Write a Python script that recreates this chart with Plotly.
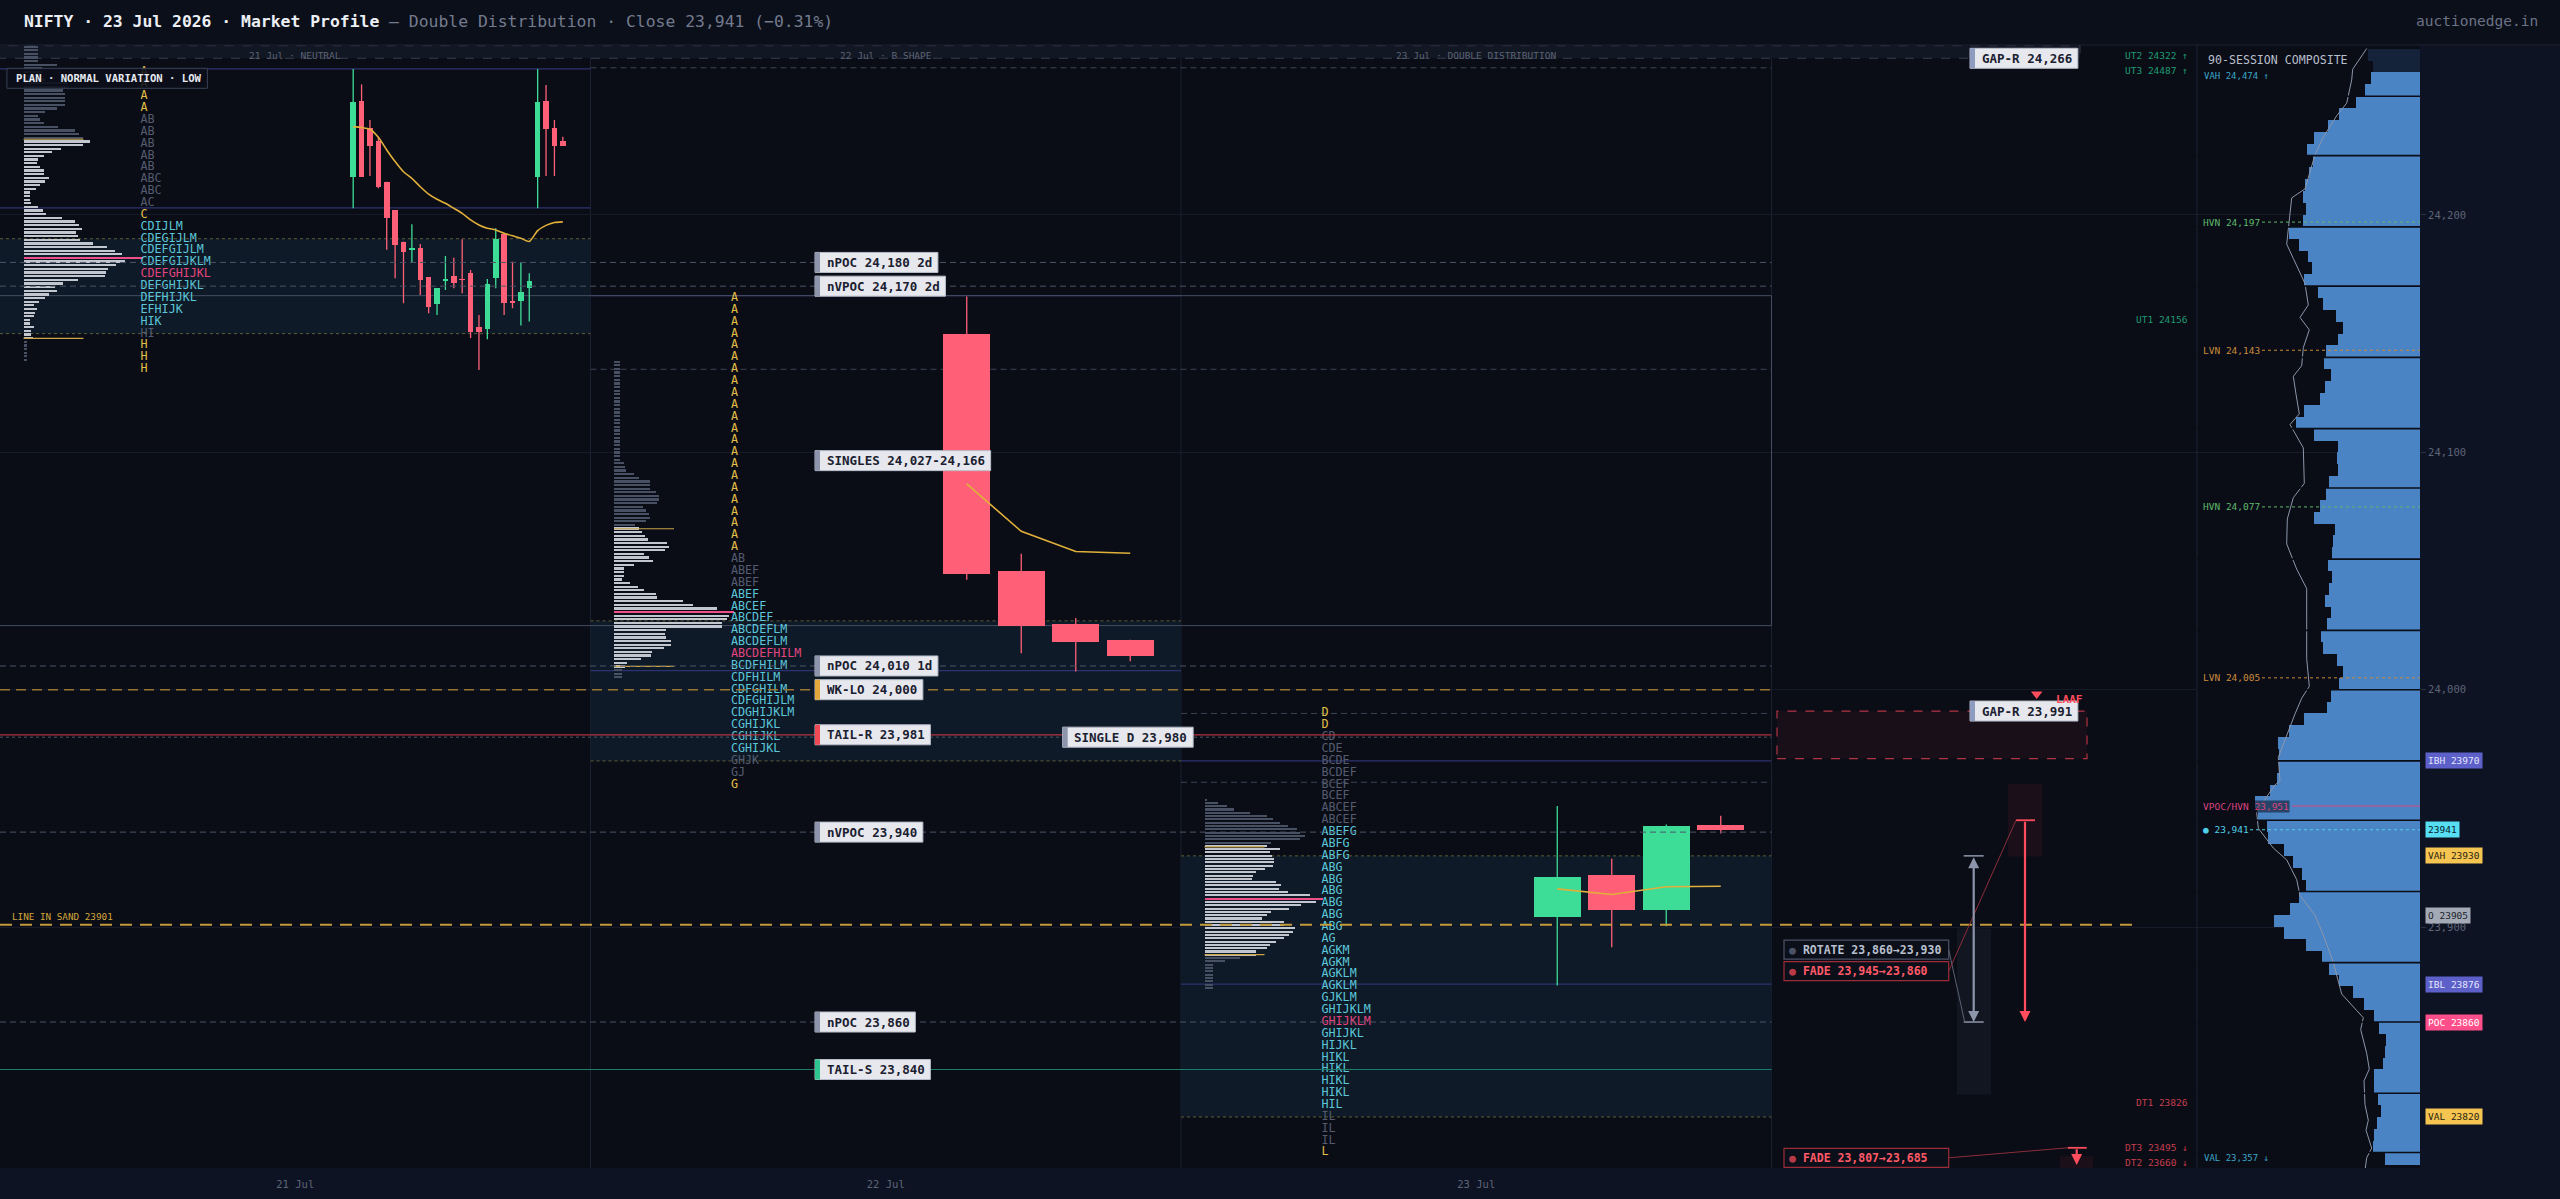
import plotly.graph_objects as go

FONT = 'DejaVu Sans Mono'

# ====================== DATA ======================
DAYS = ['21 Jul', '22 Jul', '23 Jul']
DAY_TYPES = ['NEUTRAL', 'B SHAPE', 'DOUBLE DISTRIBUTION']
PLAN_TEXT = 'PLAN · NORMAL VARIATION · LOW'

TPO_TICK = 5
TPO21_TOP = 24260
TPO21 = ['A', 'A', 'A', 'A', 'AB', 'AB', 'AB', 'AB', 'AB', 'ABC', 'ABC', 'AC', 'C', 'CDIJLM',
         'CDEGIJLM', 'CDEFGIJLM', 'CDEFGIJKLM', 'CDEFGHIJKL', 'DEFGHIJKL', 'DEFHIJKL', 'EFHIJK',
         'HIK', 'HI', 'H', 'H', 'H']
TPO22_TOP = 24165
TPO22 = ['A', 'A', 'A', 'A', 'A', 'A', 'A', 'A', 'A', 'A', 'A', 'A', 'A', 'A', 'A', 'A', 'A', 'A',
         'A', 'A', 'A', 'A', 'AB', 'ABEF', 'ABEF', 'ABEF', 'ABCEF', 'ABCDEF', 'ABCDEFLM', 'ABCDEFLM',
         'ABCDEFHILM', 'BCDFHILM', 'CDFHILM', 'CDFGHILM', 'CDFGHIJLM', 'CDGHIJKLM', 'CGHIJKL',
         'CGHIJKL', 'CGHIJKL', 'GHJK', 'GJ', 'G']
TPO23_TOP = 23990
TPO23 = ['D', 'D', 'CD', 'CDE', 'BCDE', 'BCDEF', 'BCEF', 'BCEF', 'ABCEF', 'ABCEF', 'ABEFG', 'ABFG',
         'ABFG', 'ABG', 'ABG', 'ABG', 'ABG', 'ABG', 'ABG', 'AG', 'AGKM', 'AGKM', 'AGKLM', 'AGKLM',
         'GJKLM', 'GHIJKLM', 'GHIJKLM', 'GHIJKL', 'HIJKL', 'HIKL', 'HIKL', 'HIKL', 'HIKL', 'HIL',
         'IL', 'IL', 'IL', 'L']
TPO_POC = [24175, 24015, 23860]
TPO_VA = [(24195, 24155), (24040, 23975), (23940, 23825)]

VA = [(24190, 24150), (24029, 23970), (23930, 23820)]
IB = [(24261.5, 24203), (24166, 24008), (23970, 23876)]

# volume profile per session (top price, bottom price, row volumes top->bottom)
VOL21_TOP, VOL21_BOT = 24270.9, 24138.9
VOL21 = [14.5, 14.5, 14.5, 14.5, 14.5, 33, 18, 18, 18, 21, 43, 44, 39, 41, 41, 41, 41, 33, 21, 14,
         16, 20, 34, 51, 55, 59, 66, 59, 37, 28, 20, 14, 13, 16, 20, 20, 25, 21, 16, 12, 6, 6, 6, 7,
         14, 19, 22, 38, 51, 55, 58, 52, 54, 56, 69, 83, 91, 98, 119, 101, 92, 84, 82, 81, 54, 39,
         31, 33, 25, 21, 15, 10, 13, 11, 10, 6, 6, 10, 7, 7, 9, 3, 3, 3, 3, 3, 3]
VOL22_TOP, VOL22_BOT = 24138.2, 24005.2
VOL22 = [6, 6, 6, 6, 6, 6, 6, 6, 6, 6, 6, 6, 6, 6, 6, 6, 6, 6, 6, 6, 6, 6, 6, 6, 6, 6, 6, 6,
         9.5, 11, 12, 20, 25, 36, 36, 36, 42, 45, 45, 43, 29, 32, 35, 36, 32, 21, 25, 28,
         31, 34, 53, 55, 51, 30, 35, 39, 20, 9.5, 10, 9.5, 8, 16, 24, 30, 42, 43, 69, 79,
         103, 120, 115, 113, 108, 108, 52, 51, 52, 57, 57, 50, 38, 37, 27, 13, 11, 7.5, 7.5, 7.5]
VOL23_TOP, VOL23_BOT = 23953.7, 23874.4
VOL23 = [2, 13, 22, 29, 45, 62, 68, 75, 83, 92, 95, 100, 95, 66, 62, 75, 65, 67, 69, 69,
         68, 60, 51, 48, 47, 71, 76, 74, 83, 105, 118, 111, 96, 84, 66, 62, 57, 79, 79, 90,
         88, 84, 79, 71, 65, 62, 51, 51, 35, 20, 8, 8, 8, 8, 8, 8, 8, 8]
VOL_VA = [(24231.9, 24148.0), (24067.8, 24009.8), (23933.8, 23888.4)]

# 30-min / 5-min candles
O21 = [24216, 24248, 24236.5, 24231.3, 24214, 24202.1, 24188.8, 24185.5, 24186, 24173.7, 24162.4,
       24172.4, 24174.3, 24172.9, 24175.7, 24152.7, 24151.9, 24173.6, 24191.9, 24163.8, 24163.9,
       24169.1, 24216, 24248, 24236.5, 24231.2]
H21 = [24261.5, 24255, 24240, 24233, 24214, 24202.1, 24188.8, 24196.1, 24187.8, 24173.7, 24169.1,
       24182.7, 24182, 24189.8, 24176.8, 24157.9, 24173, 24194.4, 24191.9, 24180.3, 24179.9,
       24175.4, 24261.5, 24254.7, 24240, 24233]
L21 = [24202.8, 24216, 24216.4, 24211.2, 24185.3, 24173.3, 24162.8, 24179.9, 24166.3, 24158.6,
       24157.9, 24168.4, 24169.1, 24167, 24148.1, 24134.7, 24147.6, 24169.1, 24157.9, 24160.7,
       24153.4, 24155.1, 24202.8, 24216.4, 24216.4, 24229]
C21 = [24247.4, 24216.2, 24229, 24211.9, 24198.9, 24187.4, 24184.6, 24186, 24172.6, 24161.4,
       24169.1, 24172.9, 24171.5, 24172.6, 24150.5, 24150.9, 24171, 24189.9, 24162.8, 24162.8,
       24167.4, 24172.3, 24247.4, 24236.2, 24229.2, 24229.2]
VWAP21 = [24237.2, 24236.8, 24236.1, 24232.7, 24227.4, 24222.5, 24218.2, 24215.4, 24211.9, 24208.8,
          24206.6, 24204.9, 24202.8, 24200.7, 24197.9, 24195.8, 24194.4, 24193.7, 24192.3, 24191.2,
          24190.2, 24188.8, 24193.4, 24195.6, 24196.8, 24197.1]
O22 = [24149.9, 24050.2, 24027.8, 24021.0]
H22 = [24165.6, 24057.3, 24030.2, 24021.0]
L22 = [24046.3, 24015.4, 24007.7, 24012.0]
C22 = [24048.7, 24026.7, 24019.9, 24014.4]
VWAP22 = [24086.7, 24066.7, 24058.2, 24057.5]
O23 = [23904.4, 23921.8, 23907.1, 23942.9]
H23 = [23951.0, 23928.8, 23943.2, 23946.9]
L23 = [23875.4, 23891.5, 23900.3, 23939.4]
C23 = [23921.0, 23907.1, 23942.4, 23941.0]
VWAP23 = [23916.1, 23913.7, 23917.0, 23917.2]

# reference levels
REF_NAMES = ['nPOC 24,180 2d', 'nVPOC 24,170 2d', 'nPOC 24,010 1d', 'WK-LO 24,000', 'TAIL-R 23,981',
             'SINGLE D 23,980', 'nVPOC 23,940', 'nPOC 23,860', 'TAIL-S 23,840']
REF_PRICES = [24180, 24170, 24010, 24000, 23981, 23980, 23940, 23860, 23840]
SINGLES = (24027, 24166)
PRIOR_HL = [24262, 24135, 23990, 23961]
LINE_IN_SAND = 23901
GAP_UP = 24266
GAP_DN = (23971, 23991)
UT_NAMES = ['UT2 24322 ↑', 'UT3 24487 ↑', 'UT1 24156']
UT1 = 24156
DT_NAMES = ['DT1 23826', 'DT3 23495 ↓', 'DT2 23660 ↓']
DT1 = 23826

SCEN_NAMES = ['ROTATE', 'FADE', 'FADE']
SCEN_FROM = [23860, 23945, 23807]
SCEN_TO = [23930, 23860, 23685]
SCEN_ZONES = [(23829.5, 23899.4), (23929.7, 23960.4), (23798.5, 23803.5)]

# 90-session composite (5-pt bins from 24,270 downward)
COMP_TOP, COMP_STEP = 24270, 5
COMP_VOL = [52.3, 47.3, 49, 55, 64, 80.7, 91.7, 105.7, 112.7, 106.7, 110.7, 115, 117.3, 114, 117.3,
            131, 120.7, 112.3, 107.7, 116, 102.3, 96.7, 84, 76.7, 82.3, 94, 96, 89.3, 95, 100, 116,
            124, 105.7, 82.3, 83.3, 82.3, 90.7, 94, 100, 105.7, 85.3, 87.3, 88.3, 91.7, 88.3, 90.7,
            95, 89.3, 92.7, 99, 96.7, 83, 76.7, 81, 89, 93.3, 116, 130.7, 141.7, 140.7, 140.7, 142.7,
            150, 165, 161.7, 153.3, 152.3, 136, 126.7, 118.3, 114, 121, 130, 145.7, 136, 114, 97.7,
            90.7, 80.7, 66.7, 56, 45.7, 41.3, 34, 35, 37.3, 45.7, 45.7, 42.3, 39.3, 43.3, 46, 47.3, 35]
COMP_BREAKS = [24250, 24225, 24195, 24170, 24140, 24110, 24085, 24055, 24025, 24000, 23970, 23945,
               23915, 23885, 23860, 23830, 23805]
COMP_LINE_P = [24270.1, 24261.4, 24256.9, 24247.1, 24241.8, 24232.8, 24225.3, 24216.2, 24211, 24207.2,
               24196.7, 24187.7, 24181.7, 24175.6, 24171.1, 24162.1, 24156.8, 24151.6, 24144.1, 24136.5,
               24132, 24124.5, 24116.2, 24111.7, 24101.9, 24086.9, 24080.9, 24071.9, 24061.4, 24050.8,
               24042.6, 24029.7, 24013.1, 24001.4, 23996.4, 23989.8, 23983.5, 23971.5, 23961.5, 23959.9,
               23954.9, 23948.2, 23941.6, 23933.3, 23928.3, 23920, 23913.3, 23905, 23896.7, 23885.1,
               23871.8, 23865.1, 23861.8, 23856.8, 23846.8, 23840.2, 23835.2, 23825.2, 23818.6, 23814.4,
               23806.9, 23802.8, 23797.5]
COMP_LINE_V = [53.3, 67.3, 68.3, 73.3, 83.3, 96.7, 105, 111.7, 115, 128.3, 130.7, 133.3, 126.7, 120,
               115, 111.7, 120, 110.7, 116.7, 118.3, 126.7, 124, 120.7, 130, 116.7, 115.7, 126.7, 132.7,
               133.3, 123.3, 113.3, 113.3, 113.3, 110.7, 118.3, 125, 130.7, 141.7, 140, 145, 153.3,
               163.3, 161.7, 146.7, 133.3, 123.3, 120, 105, 96.7, 86.7, 78.3, 63.3, 56.7, 59.3, 53.3,
               50.7, 56, 55, 51.7, 54, 48.3, 53.3, 55]
COMP_NODES = ['HVN 24,197', 'LVN 24,143', 'HVN 24,077', 'LVN 24,005', 'VPOC/HVN 23,951', '● 23,941']
COMP_NODE_P = [24197, 24143, 24077, 24005, 23951, 23941]
COMP_VAH_TXT, COMP_VAL_TXT = 'VAH 24,474 ↑', 'VAL 23,357 ↓'

BADGES = ['IBH 23970', '23941', 'VAH 23930', 'O 23905', 'IBL 23876', 'POC 23860', 'VAL 23820']
BADGE_P = [23970, 23941, 23930, 23905, 23876, 23860, 23820]

TITLE_MAIN = 'NIFTY · 23 Jul 2026 · Market Profile'
TITLE_SUB = ' — Double Distribution · Close 23,941 (−0.31%)'
BRAND = 'auctionedge.in'

# ====================== LAYOUT GEOMETRY ======================
FIG_W, FIG_H = 2560, 1199
PLOT_T, PLOT_B, PLOT_R = 45, 1168, 2420
MAIN_R = 2197
DAY_PX = 590.5
Y_MIN, Y_MAX = 23798.5, 24271.6
PPX = (Y_MAX - Y_MIN) / (PLOT_B - PLOT_T)


def dx(px):
    return px / DAY_PX


def pr(ypx):
    return Y_MAX - (ypx - PLOT_T) * PPX


def PX(px):
    return px / PLOT_R


def PY(ypx):
    return (PLOT_B - ypx) / (PLOT_B - PLOT_T)


BG = '#0a0d16'
GREEN, RED = '#3ddc97', '#ff6077'
CYAN, YEL, DIM, PINK = '#5cc6da', '#e3bf48', '#555c70', '#e2457f'

fig = go.Figure()
shapes = []
annos = []


def hline(p, x0px, x1px, color, width=1, dash=None, layer='above'):
    shapes.append(dict(type='line', xref='x', yref='y', x0=dx(x0px), x1=dx(x1px), y0=p, y1=p,
                       line=dict(color=color, width=width, dash=dash), layer=layer))


def rect(x0px, x1px, p0, p1, fill, line=None, lw=0, dash=None, layer='above'):
    shapes.append(dict(type='rect', xref='x', yref='y', x0=dx(x0px), x1=dx(x1px), y0=p0, y1=p1,
                       fillcolor=fill, line=dict(color=line or fill, width=lw, dash=dash), layer=layer))


def text(x, y, s, size, color, xref='x', yref='y', xanchor='left', yanchor='middle', bold=False, **kw):
    annos.append(dict(x=x, y=y, xref=xref, yref=yref, text=('<b>%s</b>' % s) if bold else s,
                      showarrow=False, xanchor=xanchor, yanchor=yanchor,
                      font=dict(family=FONT, size=size, color=color), **kw))


# ---------- background regions ----------
shapes.append(dict(type='rect', xref='paper', yref='paper', x0=PX(PLOT_R), x1=PX(FIG_W), y0=PY(FIG_H),
                   y1=PY(PLOT_T), fillcolor='#0e1324', line=dict(width=0), layer='below'))
shapes.append(dict(type='rect', xref='paper', yref='paper', x0=0, x1=PX(FIG_W), y0=PY(FIG_H),
                   y1=0, fillcolor='#0e1324', line=dict(width=0), layer='below'))
shapes.append(dict(type='line', xref='paper', yref='paper', x0=0, x1=PX(FIG_W), y0=1, y1=1,
                   line=dict(color='#1c2233', width=1), layer='above'))

# gap-up zone at top
rect(-3, 2080, GAP_UP, Y_MAX - 0.3, '#121724', '#343c50', 1, 'dash', layer='below')

sessions = [
    dict(tpo_top=TPO21_TOP, tpo=TPO21, vtop=VOL21_TOP, vbot=VOL21_BOT, vol=VOL21,
         O=O21, H=H21, L=L21, C=C21, vw=VWAP21),
    dict(tpo_top=TPO22_TOP, tpo=TPO22, vtop=VOL22_TOP, vbot=VOL22_BOT, vol=VOL22,
         O=O22, H=H22, L=L22, C=C22, vw=VWAP22),
    dict(tpo_top=TPO23_TOP, tpo=TPO23, vtop=VOL23_TOP, vbot=VOL23_BOT, vol=VOL23,
         O=O23, H=H23, L=L23, C=C23, vw=VWAP23),
]

for d, s in enumerate(sessions):
    d0 = d * DAY_PX
    # value area band
    vah, val = VA[d]
    rect(d0, d0 + DAY_PX, val, vah, '#0e1a27', layer='below')
    hline(vah, d0, d0 + DAY_PX, '#5e5c35', 1, 'dot', layer='between')
    hline(val, d0, d0 + DAY_PX, '#5e5c35', 1, 'dot', layer='between')
    # IB
    for p in IB[d]:
        hline(p, d0, d0 + DAY_PX, '#2d3270', 1.2, None, layer='between')

    # volume profile
    vol = s['vol']
    n = len(vol)
    step = (s['vtop'] - s['vbot']) / (n - 1)
    vp = [s['vtop'] - i * step for i in range(n)]
    vmax = max(vol)
    vhi, vlo = VOL_VA[d]
    cols = []
    for p, v in zip(vp, vol):
        if v == vmax:
            cols.append('#ee4f86')
        elif vlo - 0.5 <= p <= vhi + 0.5:
            cols.append('#c2c6cf')
        else:
            cols.append('#485064')
    fig.add_trace(go.Bar(orientation='h', y=vp, x=[dx(v) for v in vol], base=dx(d0 + 23.5),
                         width=step * 0.62, marker=dict(color=cols, line=dict(width=0)),
                         hoverinfo='skip', showlegend=False))
    for p in VOL_VA[d]:
        hline(p, d0 + 23.5, d0 + 83.5, '#c9a548', 1.2, None, layer='above')

    # TPO letters
    tp = [s['tpo_top'] - i * TPO_TICK for i in range(len(s['tpo']))]
    tcol = []
    for p, lt in zip(tp, s['tpo']):
        if p == TPO_POC[d]:
            tcol.append(PINK)
        elif len(lt) == 1:
            tcol.append(YEL)
        elif TPO_VA[d][1] <= p <= TPO_VA[d][0]:
            tcol.append(CYAN)
        else:
            tcol.append(DIM)
    fig.add_trace(go.Scatter(x=[dx(d0 + 140.5)] * len(tp), y=tp, mode='text', text=s['tpo'],
                             textposition='middle right',
                             textfont=dict(family=FONT, size=11.7, color=tcol),
                             hoverinfo='skip', showlegend=False))

    # candles
    O, Hh, L, C = s['O'], s['H'], s['L'], s['C']
    nc = len(O)
    slot = 218.0 / nc
    cx = [dx(d0 + 349 + (i + 0.5) * slot) for i in range(nc)]
    bw = dx(slot * (0.86 if nc < 10 else 0.66))
    ccol = [GREEN if c >= o else RED for o, c in zip(O, C)]
    for colr in (GREEN, RED):
        xs, ys = [], []
        for i in range(nc):
            if ccol[i] == colr:
                xs += [cx[i], cx[i], None]
                ys += [L[i], Hh[i], None]
        fig.add_trace(go.Scatter(x=xs, y=ys, mode='lines', line=dict(color=colr, width=1.3),
                                 hoverinfo='skip', showlegend=False))
    fig.add_trace(go.Bar(x=cx, y=[max(abs(c - o), 0.35) for o, c in zip(O, C)],
                         base=[min(o, c) for o, c in zip(O, C)], width=bw,
                         marker=dict(color=ccol, line=dict(width=0)), hoverinfo='skip', showlegend=False))
    fig.add_trace(go.Scatter(x=cx, y=s['vw'], mode='lines',
                             line=dict(color='#e0b03a', width=1.6,
                                       shape='spline' if nc > 10 else 'linear', smoothing=0.6),
                             hoverinfo='skip', showlegend=False))

    # session header
    text(d + 0.5, PY(55), '%s · %s' % (DAYS[d], DAY_TYPES[d]), 9.5, '#5c6374',
         yref='paper', xanchor='center')

# prior-day highs/lows
hline(PRIOR_HL[0], DAY_PX, 3 * DAY_PX, '#3c4356', 1, '6px,4px', 'between')
hline(PRIOR_HL[1], DAY_PX, 3 * DAY_PX, '#3c4356', 1, '6px,4px', 'between')
hline(PRIOR_HL[2], 2 * DAY_PX, 3 * DAY_PX, '#3c4356', 1, '6px,4px', 'between')
hline(PRIOR_HL[3], 2 * DAY_PX, 3 * DAY_PX, '#3c4356', 1, '6px,4px', 'between')

# singles box
rect(-3, 3 * DAY_PX, SINGLES[0], SINGLES[1], 'rgba(0,0,0,0)', '#454d62', 1, None, layer='between')

# reference level lines
STYLE = {
    'nPOC': ('#4d5467', 1, '6px,4px', '#8c95ab'),
    'nVPOC': ('#4d5467', 1, '6px,4px', '#8c95ab'),
    'WK-LO': ('#9a7532', 1.4, '10px,6px', '#e2a83b'),
    'TAIL-R': ('#b3323f', 1.2, None, '#f04a57'),
    'SINGLE': ('#4d5467', 1, 'dot', '#8c95ab'),
    'TAIL-S': ('#1d7f68', 1.2, None, '#2fc58e'),
}
label_boxes = []
for name, p in zip(REF_NAMES, REF_PRICES):
    key = name.split(' ')[0]
    lc, lw, ld, acc = STYLE[key]
    hline(p, 0, 3 * DAY_PX, lc, lw, ld, 'above')
    label_boxes.append((name, p, 1062.7 if key == 'SINGLE' else 815, acc))
label_boxes.append(('SINGLES %s-%s' % (format(SINGLES[0], ','), format(SINGLES[1], ',')),
                    (SINGLES[0] + SINGLES[1]) / 2, 815, '#8c95ab'))

# line in sand
hline(LINE_IN_SAND, 0, 2137, '#c39b3c', 2, '12px,8px', 'above')
text(dx(10), LINE_IN_SAND, 'LINE IN SAND %d' % LINE_IN_SAND, 9.3, '#d3a63c', yanchor='bottom', yshift=1)

# gap-down (LAAF) zone
rect(1777, 2087, GAP_DN[0], GAP_DN[1], 'rgba(120,30,45,0.13)', '#b23443', 1.2, 'dash', layer='above')
label_boxes.append(('GAP-R %s' % format(GAP_UP, ','), GAP_UP, 1970, '#8e9cc0'))
label_boxes.append(('GAP-R %s' % format(GAP_DN[1], ','), GAP_DN[1], 1970, '#8e9cc0'))

for name, p, left, acc in label_boxes:
    w = 9.5 + len(name) * 7.53 + 8
    half = 10 * PPX
    rect(left, left + w, p - half, p + half, '#e6e8ee', '#b8bdca', 1, None, 'above')
    rect(left, left + 5, p - half, p + half, acc, None, 0, None, 'above')
    text(dx(left + 9.5), p, name, 12.5, '#1b2030', bold=True)

# LAAF marker
fig.add_trace(go.Scatter(x=[dx(2036.7)], y=[pr(694)], mode='markers',
                         marker=dict(symbol='triangle-down', size=10, color='#ff4d5e'),
                         hoverinfo='skip', showlegend=False))
text(dx(2054), pr(699), 'LAAF', 11, '#ff4d5e', bold=True)

# UT / DT targets
text(dx(2190), pr(55), UT_NAMES[0], 9.5, '#1f9a73', xanchor='right')
text(dx(2190), pr(70), UT_NAMES[1], 9.5, '#1f9a73', xanchor='right')
text(dx(2190), UT1, UT_NAMES[2], 9.5, '#1f9a73', xanchor='right')
text(dx(2190), DT1, DT_NAMES[0], 9.5, '#c43e4e', xanchor='right')
text(dx(2190), pr(1147), DT_NAMES[1], 9.5, '#c43e4e', xanchor='right')
text(dx(2190), pr(1162), DT_NAMES[2], 9.5, '#c43e4e', xanchor='right')

# scenarios
box_y = [949.7, 971.2, 1157.8]
arrow_x = [1973.7, 2025, 2076.7]
zone_x = [(1957, 1991), (2008, 2042), (2060, 2093)]
for i in range(3):
    rot = SCEN_NAMES[i] == 'ROTATE'
    col = '#8c95aa' if rot else '#ff4d5e'
    bcol = '#4b5265' if rot else '#9b2c38'
    tcol = '#b9c0cd' if rot else '#ff5a67'
    zx0, zx1 = zone_x[i]
    rect(zx0, zx1, SCEN_ZONES[i][0], SCEN_ZONES[i][1], '#121620' if rot else '#1b1019', layer='between')
    yb = box_y[i]
    rect(1784, 1948.7, pr(yb + 9.5), pr(yb - 9.5), '#0b0f1a', bcol, 1.2, None, 'above')
    lbl = '%s %s→%s' % (SCEN_NAMES[i], format(SCEN_FROM[i], ','), format(SCEN_TO[i], ','))
    text(dx(1787), pr(yb), '<span style="color:%s">●</span> <b>%s</b>' % (bcol if rot else '#b83a46', lbl),
         11.5, tcol)
    ax = dx(arrow_x[i])
    top_p = max(SCEN_FROM[i], SCEN_TO[i])
    bot_p = max(min(SCEN_FROM[i], SCEN_TO[i]), Y_MIN + 1.3)
    if rot:
        annos.append(dict(x=ax, y=bot_p, ax=ax, ay=top_p, xref='x', yref='y', axref='x', ayref='y',
                          showarrow=True, arrowhead=2, arrowsize=1, arrowwidth=2.2, arrowcolor=col,
                          arrowside='end+start', text=''))
        hline(top_p, arrow_x[i] - 10, arrow_x[i] + 10, col, 1.5)
        hline(bot_p, arrow_x[i] - 10, arrow_x[i] + 10, col, 1.5)
        shapes.append(dict(type='line', xref='x', yref='y', x0=dx(1948.7), y0=pr(yb),
                           x1=dx(arrow_x[i] - 9), y1=bot_p, line=dict(color='#5a6275', width=1)))
    else:
        annos.append(dict(x=ax, y=bot_p, ax=ax, ay=top_p, xref='x', yref='y', axref='x', ayref='y',
                          showarrow=True, arrowhead=2, arrowsize=1, arrowwidth=2.2, arrowcolor=col,
                          text=''))
        hline(top_p, arrow_x[i] - 9, arrow_x[i] + 10, col, 1.8)
        shapes.append(dict(type='line', xref='x', yref='y', x0=dx(1948.7), y0=pr(yb),
                           x1=dx(arrow_x[i] - 9), y1=top_p, line=dict(color='#8b2e3a', width=1)))

# panel dividers
for k in (1, 2, 3):
    shapes.append(dict(type='line', xref='x', yref='paper', x0=k, x1=k, y0=0, y1=1,
                       line=dict(color='#1b2131', width=1), layer='between'))
shapes.append(dict(type='line', xref='paper', yref='paper', x0=PX(MAIN_R), x1=PX(MAIN_R), y0=0, y1=1,
                   line=dict(color='#1e2536', width=1), layer='above'))

# PLAN box
shapes.append(dict(type='rect', xref='x', yref='y', x0=dx(6.9), x1=dx(207.4), y0=pr(88.3), y1=pr(68.3),
                   fillcolor='rgba(11,15,26,0.88)', line=dict(color='#3a4154', width=1), layer='above'))
text(dx(14), pr(78.3), PLAN_TEXT, 10.6, '#e6e9f0', bold=True)

# ---------- composite ----------
cp = [COMP_TOP - COMP_STEP / 2 - i * COMP_STEP for i in range(len(COMP_VOL))]
ccols = ['#15233a' if p > 24260 else '#4a84c5' for p in cp]
fig.add_trace(go.Bar(orientation='h', y=cp, x=COMP_VOL, width=COMP_STEP * 1.01, xaxis='x2', yaxis='y',
                     marker=dict(color=ccols, line=dict(width=0)), hoverinfo='skip', showlegend=False))
fig.add_trace(go.Scatter(x=COMP_LINE_V, y=COMP_LINE_P, xaxis='x2', yaxis='y', mode='lines',
                         line=dict(color='#8d96aa', width=1), hoverinfo='skip', showlegend=False))
for p in COMP_BREAKS:
    shapes.append(dict(type='line', xref='x2', yref='y', x0=0, x1=223, y0=p, y1=p,
                       line=dict(color=BG, width=1.6), layer='above'))

text(PX(2206), PY(59.6), '90-SESSION COMPOSITE', 11.6, '#b8bfcc', xref='paper', yref='paper')
text(PX(2202), PY(75.7), COMP_VAH_TXT, 9, '#3aa6c8', xref='paper', yref='paper')
text(PX(2202), PY(1157.6), COMP_VAL_TXT, 9, '#3aa6c8', xref='paper', yref='paper')
node_style = [('#5fb86a', 'dot', 2262), ('#c98b3a', 'dot', 2262), ('#5fb86a', 'dot', 2262),
              ('#c98b3a', 'dot', 2262), ('#d9457f', None, 2292), ('#4fd0e8', 'dot', 2250)]
for name, p, (c, ds, lx) in zip(COMP_NODES, COMP_NODE_P, node_style):
    shapes.append(dict(type='line', xref='paper', yref='y', x0=PX(lx), x1=PX(PLOT_R), y0=p, y1=p,
                       line=dict(color=c, width=1.2 if ds is None else 1, dash=ds), layer='above'))
    text(PX(2202), p, name, 9.5, c, xref='paper', bgcolor='rgba(11,15,26,0.55)', borderpad=0)

# right badges
badge_col = {'IBH': ('#5c60c8', '#e4e6ff'), 'IBL': ('#5c60c8', '#e4e6ff'), 'VAH': ('#f5c451', '#2b2410'),
             'VAL': ('#f5c451', '#2b2410'), 'O': ('#a3a9b5', '#1b1f2b'), 'POC': ('#ff4f8a', '#ffffff')}
for name, p in zip(BADGES, BADGE_P):
    key = name.split(' ')[0]
    bg, fg = badge_col.get(key, ('#57def2', '#06202a'))
    text(PX(2425), p, name, 9.5, fg, xref='paper', bgcolor=bg, borderpad=2)

# header
text(PX(21.8), PY(21.5),
     '<b>%s</b><span style="color:#737b8d">%s</span>' % (TITLE_MAIN, TITLE_SUB),
     16.4, '#eceff5', xref='paper', yref='paper')
text(PX(2540), PY(21.5), BRAND, 14.5, '#6c7386', xref='paper', yref='paper', xanchor='right')

fig.update_layout(
    width=FIG_W, height=FIG_H, autosize=False,
    margin=dict(l=0, r=FIG_W - PLOT_R, t=PLOT_T, b=FIG_H - PLOT_B, pad=0),
    paper_bgcolor='#0b0f1a', plot_bgcolor=BG,
    barmode='overlay', bargap=0, showlegend=False,
    font=dict(family=FONT, color='#c0c5d0'),
    xaxis=dict(domain=[0, MAIN_R / PLOT_R], range=[0, MAIN_R / DAY_PX], anchor='y',
               showgrid=False, zeroline=False, showline=False,
               tickvals=[0.5, 1.5, 2.5], ticktext=DAYS, ticks='',
               tickfont=dict(family=FONT, size=10.5, color='#5d6577'), ticklabelstandoff=8),
    xaxis2=dict(domain=[MAIN_R / PLOT_R, 1], range=[PLOT_R - MAIN_R, 0], anchor='y',
                showgrid=False, zeroline=False, showline=False, showticklabels=False),
    yaxis=dict(domain=[0, 1], range=[Y_MIN, Y_MAX], anchor='x2', side='right',
               tickvals=[23900, 24000, 24100, 24200], tickformat=',', ticks='outside', ticklen=5,
               tickcolor='#2b3244', tickfont=dict(family=FONT, size=10.5, color='#5d6577'),
               showgrid=True, gridcolor='#151b29', gridwidth=1, zeroline=False, showline=False),
    shapes=shapes, annotations=annos,
)

fig.write_html('out.html')
